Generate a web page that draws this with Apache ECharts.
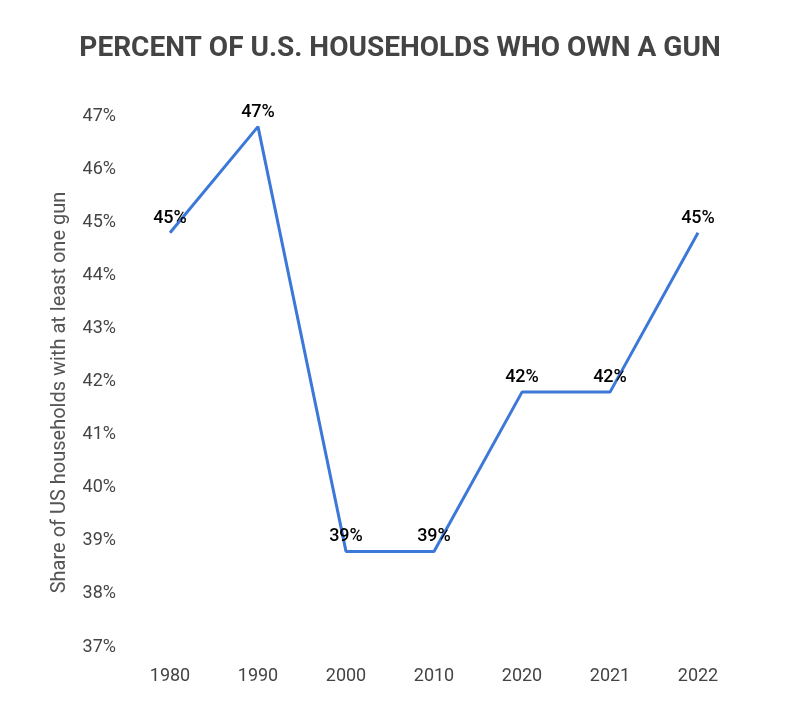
<!DOCTYPE html>
<html><head><meta charset="utf-8">
<script src="https://cdn.jsdelivr.net/npm/echarts@6/dist/echarts.min.js"></script>
<style>html,body{margin:0;padding:0;background:#fff}#c{width:800px;height:705px}</style>
</head><body><div id="c"></div>
<script>
var years = ['1980','1990','2000','2010','2020','2021','2022'];
var share = [44.8, 46.8, 38.8, 38.8, 41.8, 41.8, 44.8];
var chart = echarts.init(document.getElementById('c'));
chart.setOption({
  backgroundColor: '#fff',
  title: {
    text: 'PERCENT OF U.S. HOUSEHOLDS WHO OWN A GUN',
    left: 'center', top: 30,
    textStyle: {fontFamily: 'Roboto', fontSize: 28, fontWeight: 'bold', color: '#444'}
  },
  grid: {left: 126, right: 58, top: 116, bottom: 58},
  xAxis: {
    type: 'category', data: years, boundaryGap: true,
    axisLine: {show: false}, axisTick: {show: false},
    axisLabel: {fontFamily: 'Roboto', fontSize: 18, color: '#444', margin: 20}
  },
  yAxis: {
    type: 'value', min: 37, max: 47, interval: 1,
    name: 'Share of US households with at least one gun',
    nameLocation: 'middle', nameGap: 56, nameRotate: 90,
    nameTextStyle: {fontFamily: 'Roboto', fontSize: 20, color: '#555', padding: [0, 22, 0, 0]},
    splitLine: {show: false}, axisLine: {show: false}, axisTick: {show: false},
    axisLabel: {fontFamily: 'Roboto', fontSize: 18, color: '#444', margin: 10,
      formatter: function (v) { return v + '%'; }}
  },
  series: [{
    type: 'line', data: share, symbol: 'circle', symbolSize: 1, showSymbol: true,
    itemStyle: {opacity: 0},
    lineStyle: {color: '#3b78d8', width: 3},
    label: {show: true, position: 'top', distance: 5, opacity: 1,
      fontFamily: 'Roboto', fontSize: 18, fontWeight: 500, color: '#000',
      formatter: function (p) { return Math.round(p.value) + '%'; }}
  }]
});
</script></body></html>
